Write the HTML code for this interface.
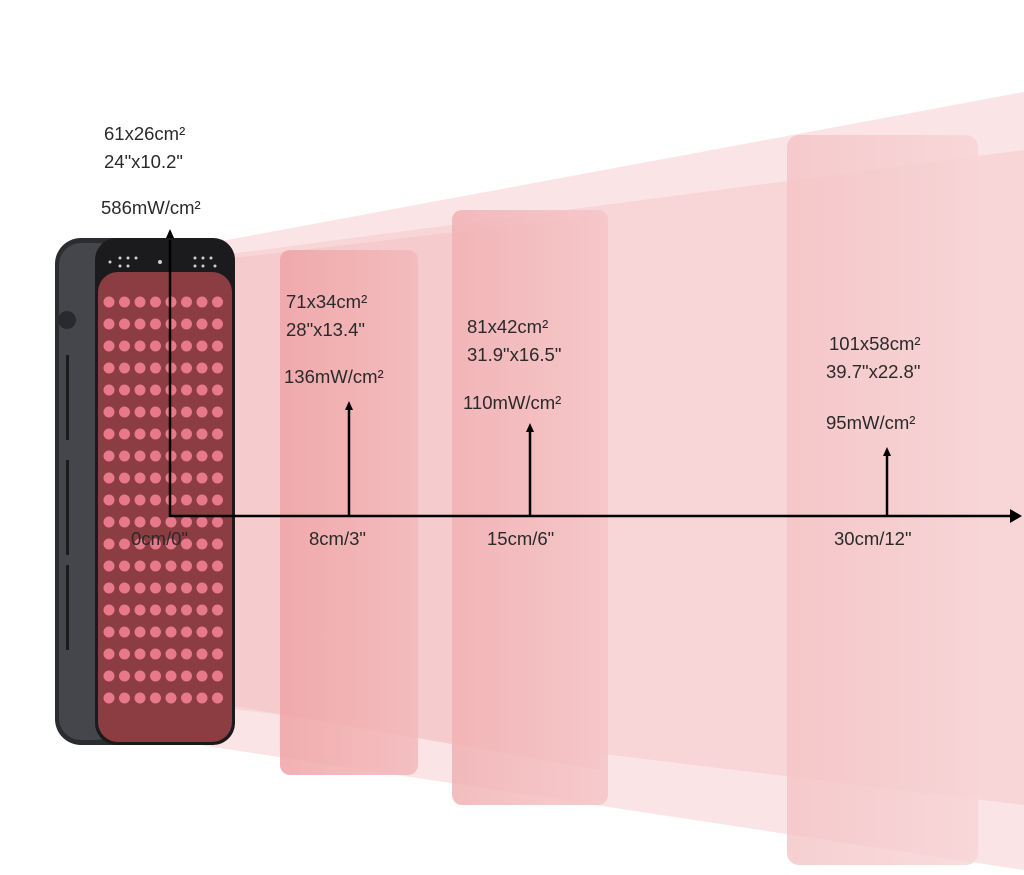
<!DOCTYPE html>
<html><head><meta charset="utf-8"><style>
html,body{margin:0;padding:0;background:#fff;}
svg{display:block}
text{font-family:"Liberation Sans",sans-serif;font-size:18.5px;fill:#2a2a2a;}
</style></head><body>
<svg width="1024" height="875" viewBox="0 0 1024 875" xmlns="http://www.w3.org/2000/svg">
<defs>
<linearGradient id="p1" x1="0" x2="1"><stop offset="0" stop-color="#ef a3a6"/><stop offset="0" stop-color="#efa3a6"/><stop offset="1" stop-color="#f3b9bb"/></linearGradient>
<linearGradient id="p2" x1="0" x2="1"><stop offset="0" stop-color="#f1b1b4"/><stop offset="1" stop-color="#f5c6c8"/></linearGradient>
<linearGradient id="p3" x1="0" x2="1"><stop offset="0" stop-color="#f4c3c5"/><stop offset="1" stop-color="#f7d4d5"/></linearGradient>
</defs>
<polygon points="200,245 1024,92 1024,870 200,745" fill="#fbe4e5"/>
<polygon points="200,258 1024,150 1024,805 200,705" fill="#f8d5d7"/>
<polygon points="200,262 600,215 600,770 200,700" fill="#f6cbcd"/>
<rect x="280" y="250" width="138" height="525" rx="10" fill="url(#p1)" opacity="0.85"/>
<rect x="452" y="210" width="156" height="595" rx="10" fill="url(#p2)" opacity="0.85"/>
<rect x="787" y="135" width="191" height="730" rx="12" fill="url(#p3)" opacity="0.8"/>
<rect x="55" y="238" width="180" height="507" rx="26" fill="#2b2c30"/>
<rect x="59" y="243" width="60" height="497" rx="22" fill="#44464c"/>
<rect x="95" y="238" width="140" height="507" rx="22" fill="#1b1b1d"/>
<rect x="98" y="272" width="134" height="470" rx="20" fill="#8b3d42"/>
<circle cx="67" cy="320" r="9" fill="#2a2a2e"/>
<rect x="66" y="355" width="3" height="85" fill="#1a1a1a"/>
<rect x="66" y="460" width="3" height="95" fill="#1a1a1a"/>
<rect x="66" y="565" width="3" height="85" fill="#1a1a1a"/>
<g fill="#e8798b">
<circle cx="109" cy="302" r="5.5"/><circle cx="124.5" cy="302" r="5.5"/><circle cx="140" cy="302" r="5.5"/><circle cx="155.5" cy="302" r="5.5"/><circle cx="171" cy="302" r="5.5"/><circle cx="186.5" cy="302" r="5.5"/><circle cx="202" cy="302" r="5.5"/><circle cx="217.5" cy="302" r="5.5"/>
</g>
<g id="r0" fill="#e8798b">
<circle cx="109" cy="324" r="5.5"/><circle cx="124.5" cy="324" r="5.5"/><circle cx="140" cy="324" r="5.5"/><circle cx="155.5" cy="324" r="5.5"/><circle cx="171" cy="324" r="5.5"/><circle cx="186.5" cy="324" r="5.5"/><circle cx="202" cy="324" r="5.5"/><circle cx="217.5" cy="324" r="5.5"/>
</g>
<use href="#r0" y="22"/><use href="#r0" y="44"/><use href="#r0" y="66"/><use href="#r0" y="88"/><use href="#r0" y="110"/><use href="#r0" y="132"/><use href="#r0" y="154"/><use href="#r0" y="176"/><use href="#r0" y="198"/><use href="#r0" y="220"/><use href="#r0" y="242"/><use href="#r0" y="264"/><use href="#r0" y="286"/><use href="#r0" y="308"/><use href="#r0" y="330"/><use href="#r0" y="352"/><use href="#r0" y="374"/>
<g fill="#cfcfcf"><circle cx="110" cy="262" r="1.5"/><circle cx="120" cy="258" r="1.5"/><circle cx="128" cy="258" r="1.5"/><circle cx="136" cy="258" r="1.5"/><circle cx="120" cy="266" r="1.5"/><circle cx="128" cy="266" r="1.5"/><circle cx="160" cy="262" r="2"/><circle cx="195" cy="258" r="1.5"/><circle cx="203" cy="258" r="1.5"/><circle cx="211" cy="258" r="1.5"/><circle cx="195" cy="266" r="1.5"/><circle cx="203" cy="266" r="1.5"/><circle cx="215" cy="266" r="1.5"/></g>
<g stroke="#000" stroke-width="2.5" fill="none">
<polyline points="170,240 170,516 1012,516"/>
<line x1="349" y1="410" x2="349" y2="516"/>
<line x1="530" y1="432" x2="530" y2="516"/>
<line x1="887" y1="456" x2="887" y2="516"/>
</g>
<g fill="#000">
<polygon points="1022,516 1010,509 1010,523"/>
<polygon points="170,229 166,238 174,238"/>
<polygon points="349,401 345,410 353,410"/>
<polygon points="530,423 526,432 534,432"/>
<polygon points="887,447 883,456 891,456"/>
</g>
<text x="104" y="140">61x26cm²</text>
<text x="104" y="168">24"x10.2"</text>
<text x="101" y="214">586mW/cm²</text>
<text x="131" y="545">0cm/0"</text>
<text x="286" y="308">71x34cm²</text>
<text x="286" y="336">28"x13.4"</text>
<text x="284" y="383">136mW/cm²</text>
<text x="309" y="545">8cm/3"</text>
<text x="467" y="333">81x42cm²</text>
<text x="467" y="361">31.9"x16.5"</text>
<text x="463" y="409">110mW/cm²</text>
<text x="487" y="545">15cm/6"</text>
<text x="829" y="350">101x58cm²</text>
<text x="826" y="378">39.7"x22.8"</text>
<text x="826" y="429">95mW/cm²</text>
<text x="834" y="545">30cm/12"</text>
</svg>
</body></html>
